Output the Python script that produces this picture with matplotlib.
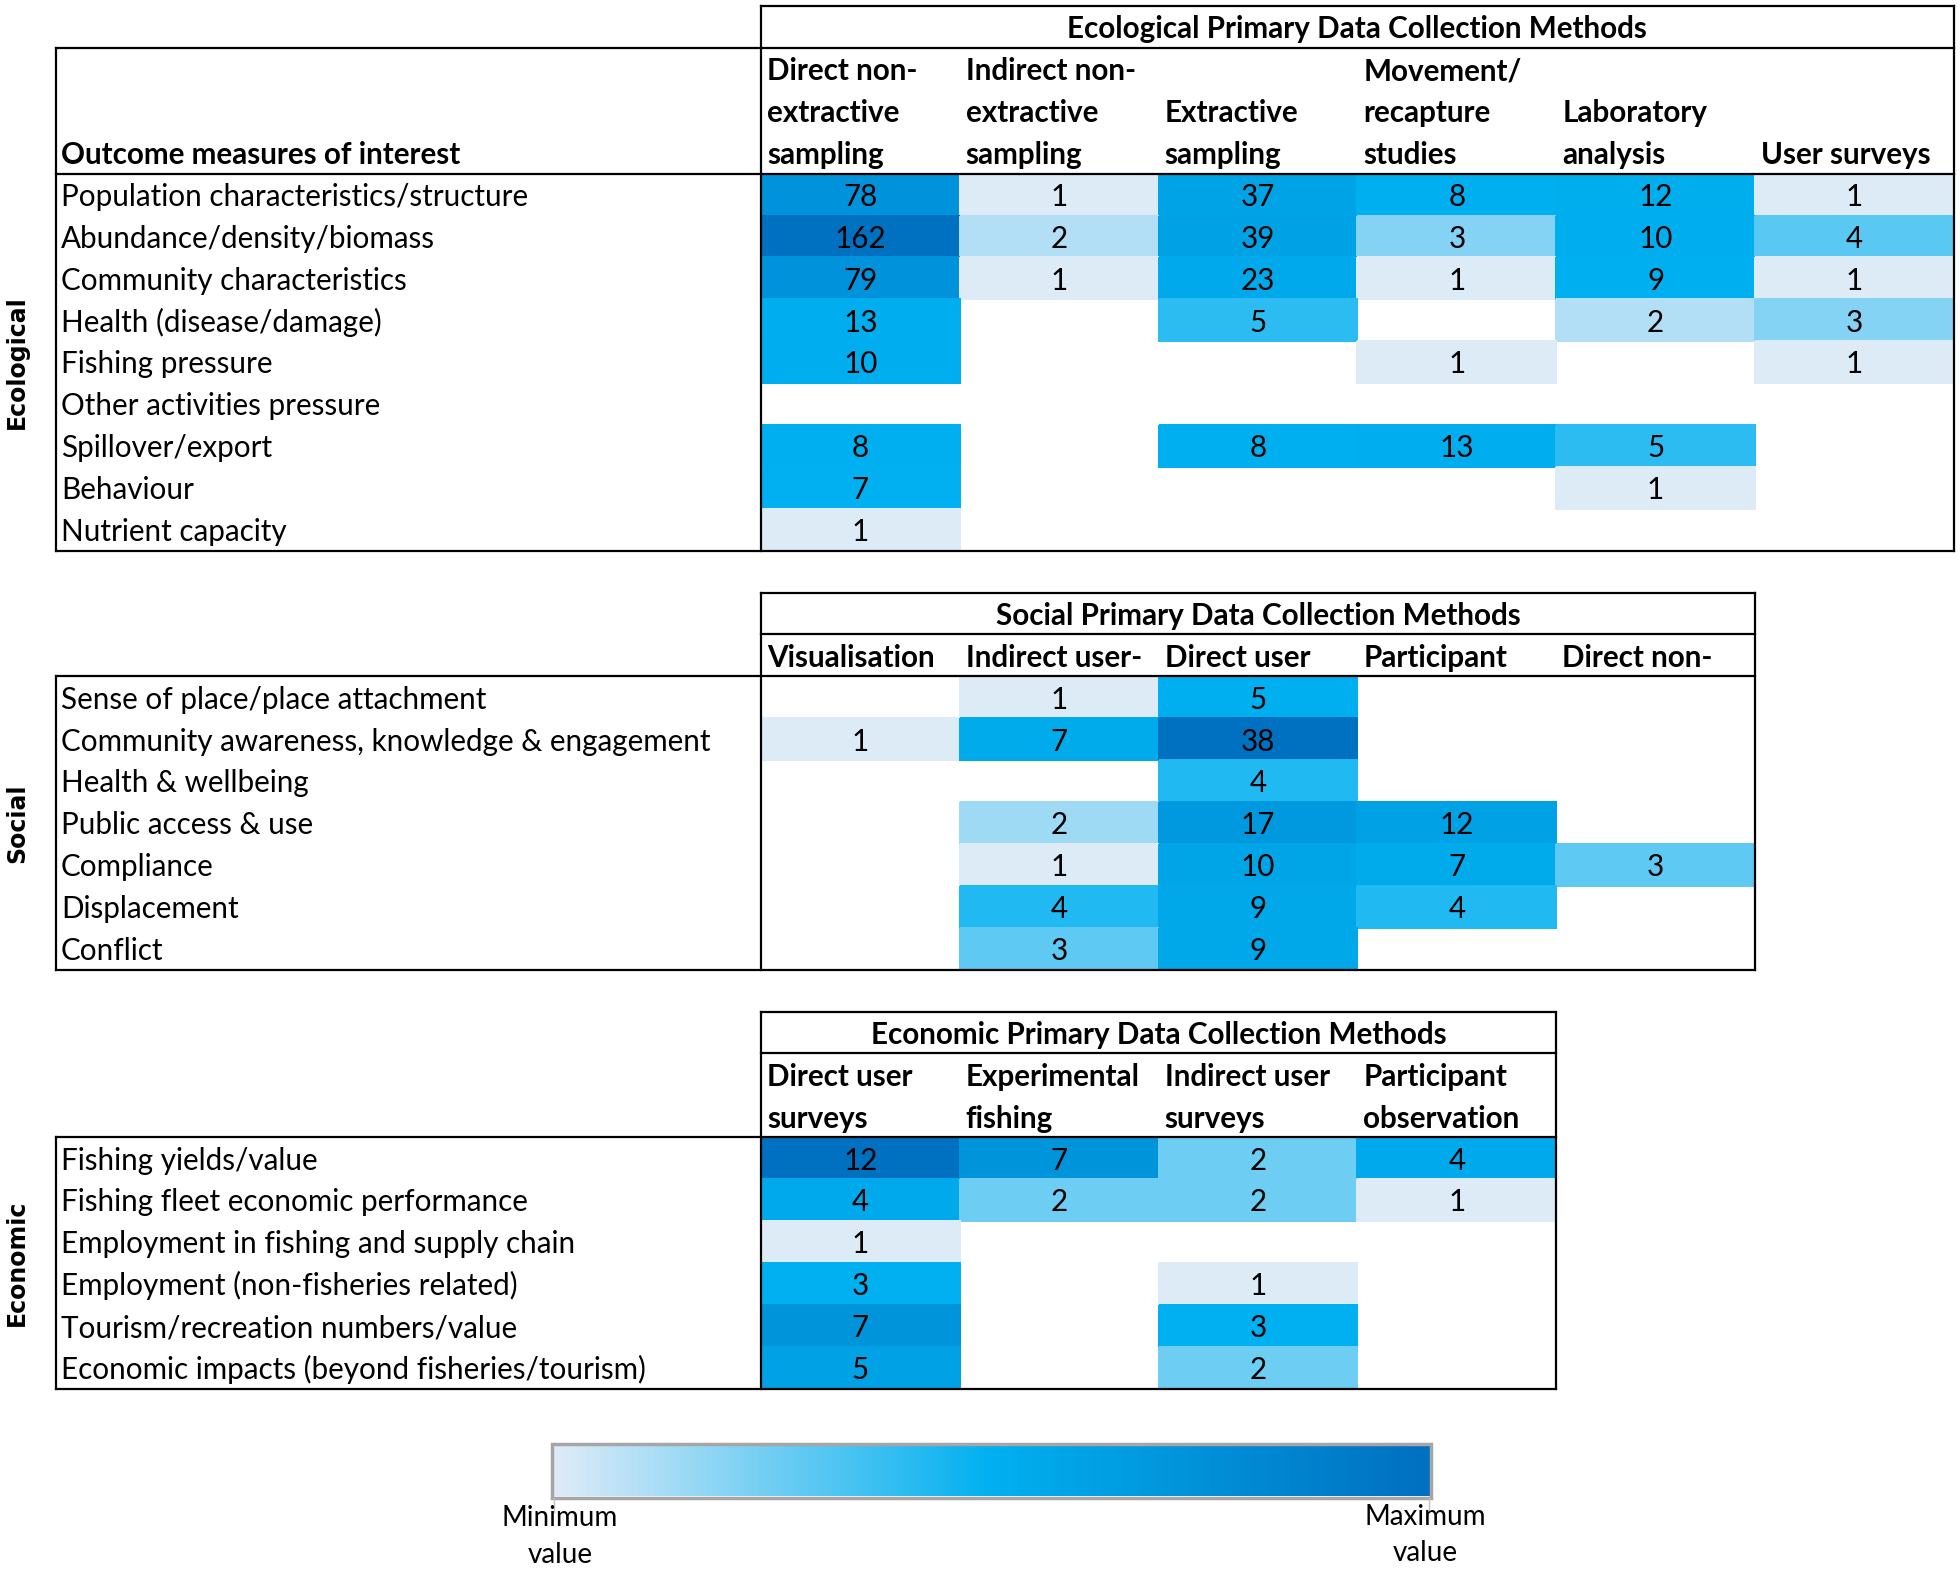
#!/usr/bin/env python3
import numpy as np
import matplotlib
matplotlib.use('Agg')
import matplotlib.pyplot as plt
from matplotlib.colors import LinearSegmentedColormap, TwoSlopeNorm
from matplotlib.patches import Rectangle

nan = np.nan

# ---- data ----
eco_title = "Ecological Primary Data Collection Methods"
eco_cols = [["Direct non-", "extractive", "sampling"],
	["Indirect non-", "extractive", "sampling"],
	["Extractive", "sampling"],
	["Movement/", "recapture", "studies"],
	["Laboratory", "analysis"],
	["User surveys"]]
eco_rows = ["Population characteristics/structure", "Abundance/density/biomass",
	"Community characteristics", "Health (disease/damage)", "Fishing pressure",
	"Other activities pressure", "Spillover/export", "Behaviour", "Nutrient capacity"]
eco_values = np.array([
	[78, 1, 37, 8, 12, 1],
	[162, 2, 39, 3, 10, 4],
	[79, 1, 23, 1, 9, 1],
	[13, nan, 5, nan, 2, 3],
	[10, nan, nan, 1, nan, 1],
	[nan, nan, nan, nan, nan, nan],
	[8, nan, 8, 13, 5, nan],
	[7, nan, nan, nan, 1, nan],
	[1, nan, nan, nan, nan, nan]])

soc_title = "Social Primary Data Collection Methods"
soc_cols = [["Visualisation"], ["Indirect user-"], ["Direct user"], ["Participant"], ["Direct non-"]]
soc_rows = ["Sense of place/place attachment", "Community awareness, knowledge & engagement",
	"Health & wellbeing", "Public access & use", "Compliance", "Displacement", "Conflict"]
soc_values = np.array([
	[nan, 1, 5, nan, nan],
	[1, 7, 38, nan, nan],
	[nan, nan, 4, nan, nan],
	[nan, 2, 17, 12, nan],
	[nan, 1, 10, 7, 3],
	[nan, 4, 9, 4, nan],
	[nan, 3, 9, nan, nan]])

econ_title = "Economic Primary Data Collection Methods"
econ_cols = [["Direct user", "surveys"], ["Experimental", "fishing"],
	["Indirect user", "surveys"], ["Participant", "observation"]]
econ_rows = ["Fishing yields/value", "Fishing fleet economic performance",
	"Employment in fishing and supply chain", "Employment (non-fisheries related)",
	"Tourism/recreation numbers/value", "Economic impacts (beyond fisheries/tourism)"]
econ_values = np.array([
	[12, 7, 2, 4],
	[4, 2, 2, 1],
	[1, nan, nan, nan],
	[3, nan, 1, nan],
	[7, nan, 3, nan],
	[5, nan, 2, nan]])

# ---- layout (pixels) ----
ROW_H = 41.9
COL_W = 198.8
LEFT = 56
X0 = 761
TXT = 21.3
LW = 1.6

plt.rcParams['font.family'] = ['Lato', 'DejaVu Sans']

# excel style 3-colour scale: min / 50th percentile / max
cmap = LinearSegmentedColormap.from_list('excel3', ['#DDEBF7', '#00B0F0', '#0070C0'])


def hline(ax, y, x1, x2):
	ax.plot([x1, x2], [y, y], color='black', lw=LW, solid_capstyle='projecting')


def vline(ax, x, y1, y2):
	ax.plot([x, x], [y1, y2], color='black', lw=LW, solid_capstyle='projecting')


def draw_table(ax, top, title, cols, rows, values, group, head_lines, outcome_head=False):
	ncol = len(cols)
	nrow = len(rows)
	right = X0 + ncol * COL_W
	head_top = top + ROW_H
	data_top = head_top + head_lines * ROW_H
	bottom = data_top + nrow * ROW_H

	vals = values[~np.isnan(values)]
	norm = TwoSlopeNorm(vcenter=np.percentile(vals, 50), vmin=vals.min(), vmax=vals.max())
	xe = X0 + COL_W * np.arange(ncol + 1)
	ye = data_top + ROW_H * np.arange(nrow + 1)
	ax.pcolormesh(xe, ye, np.ma.masked_invalid(values), cmap=cmap, norm=norm,
		shading='flat', edgecolors='face', linewidth=0.3)

	# numbers
	for i in range(nrow):
		for j in range(ncol):
			v = values[i, j]
			if not np.isnan(v):
				ax.text(X0 + (j + 0.5) * COL_W, data_top + (i + 0.77) * ROW_H, str(int(v)),
					ha='center', va='baseline', fontsize=TXT)
	# row labels
	for i, r in enumerate(rows):
		ax.text(LEFT + 5, data_top + (i + 0.77) * ROW_H, r, ha='left', va='baseline', fontsize=TXT)
	# column headers, bottom aligned
	for j, lines in enumerate(cols):
		for k, line in enumerate(lines):
			slot = head_lines - len(lines) + k
			ax.text(X0 + j * COL_W + 6, head_top + (slot + 0.77) * ROW_H, line,
				ha='left', va='baseline', fontsize=TXT, fontweight='bold')
	if outcome_head:
		ax.text(LEFT + 5, head_top + (head_lines - 1 + 0.77) * ROW_H, "Outcome measures of interest",
			ha='left', va='baseline', fontsize=TXT, fontweight='bold')
	ax.text((X0 + right) / 2, top + 0.77 * ROW_H, title, ha='center', va='baseline',
		fontsize=TXT, fontweight='bold')

	# group label
	ax.text(17, (data_top + bottom) / 2, group, rotation=90, ha='center', va='center',
		fontsize=17, fontweight='bold', family='DejaVu Sans')

	# borders
	hline(ax, top, X0, right)
	hline(ax, head_top, LEFT if outcome_head else X0, right)
	hline(ax, data_top, LEFT, right)
	hline(ax, bottom, LEFT, right)
	vline(ax, X0, top, bottom)
	vline(ax, right, top, bottom)
	vline(ax, LEFT, head_top if outcome_head else data_top, bottom)
	return bottom


fig = plt.figure(figsize=(19.6, 15.69), dpi=100)
ax = fig.add_axes([0, 0, 1, 1])

b = draw_table(ax, 6, eco_title, eco_cols, eco_rows, eco_values, "Ecological", 3, outcome_head=True)
b = draw_table(ax, b + ROW_H, soc_title, soc_cols, soc_rows, soc_values, "Social", 1)
b = draw_table(ax, b + ROW_H, econ_title, econ_cols, econ_rows, econ_values, "Economic", 2)

# legend bar
grad = np.linspace(0, 1, 256)[None, :]
ax.imshow(grad, cmap=cmap, extent=[554, 1429, 1496, 1446], aspect='auto', interpolation='bilinear')
ax.add_patch(Rectangle((552, 1444), 879, 54, fill=False, ec='#A6A6A6', lw=2.5))
ax.plot([554, 554], [1498, 1512], color='#BFBFBF', lw=1)
ax.plot([1429, 1429], [1498, 1512], color='#BFBFBF', lw=1)
ax.text(560, 1518, "Minimum", ha='center', va='center', fontsize=20)
ax.text(560, 1555, "value", ha='center', va='center', fontsize=20)
ax.text(1425, 1517, "Maximum", ha='center', va='center', fontsize=20)
ax.text(1425, 1553, "value", ha='center', va='center', fontsize=20)

ax.set_xlim(0, 1960)
ax.set_ylim(1569, 0)
ax.axis('off')

plt.savefig('out.png', dpi=100, facecolor='white')
plt.close(fig)
